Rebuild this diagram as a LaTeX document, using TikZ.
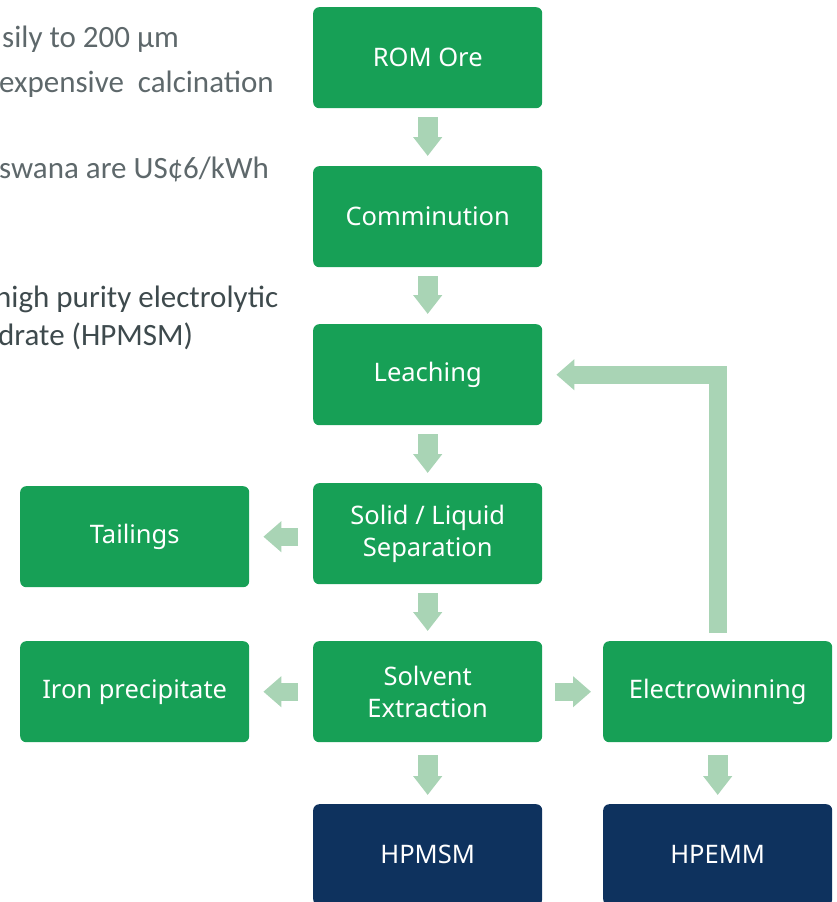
\documentclass[tikz,border=0pt]{standalone}
\usepackage{fontspec}
\setmainfont{Noto Sans}
\newfontfamily\sidefont{Carlito}
\usetikzlibrary{arrows.meta}
\definecolor{boxgreen}{HTML}{17A056}
\definecolor{navy}{HTML}{0E325E}
\definecolor{arrowgreen}{HTML}{A9D4B5}
\definecolor{sidegray}{HTML}{5E686B}
\definecolor{sidedark}{HTML}{3E4A4D}
\begin{document}
\begin{tikzpicture}[x=1pt,y=-1pt,
  proc/.style={fill=boxgreen, rounded corners=6pt, minimum width=229pt, minimum height=101pt,
    text=white, font=\fontsize{25.5}{31.5}\selectfont, align=center, anchor=north west, inner sep=0pt},
  prod/.style={proc, fill=navy},
  flow/.style={draw=arrowgreen, line width=20pt, -{Triangle[length=19pt,width=28pt]}},
  sideflow/.style={draw=arrowgreen, line width=18pt, -{Triangle[length=18pt,width=30pt]}},
  sidetext/.style={anchor=base west, inner sep=0pt, text=sidegray, font=\sidefont\fontsize{31}{36}\selectfont},
  sidetextdark/.style={sidetext, text=sidedark}]
\path[use as bounding box] (0,0) rectangle (837,902);
\clip (0,0) rectangle (837,902);

% side texts
\node[sidetext] (t1) at (2,47) {sily to 200 µm};
\node[sidetext] (t2) at (-1,92) {expensive\ \ calcination};
\node[sidetext] (t3) at (-1,178) {swana are US¢6/kWh};
\node[sidetextdark] (t4) at (-5,307) {high purity electrolytic};
\node[sidetextdark] (t5) at (-2,345) {drate (HPMSM)};

% boxes
\node[proc] (rom) at (313,7) {ROM Ore};
\node[proc] (comm) at (313,166) {Comminution};
\node[proc] (leach) at (313,324) {Leaching};
\node[proc] (sl) at (313,483) {Solid / Liquid\\Separation};
\node[proc] (sx) at (313,641) {Solvent\\Extraction};
\node[prod] (hpmsm) at (313,804) {HPMSM};
\node[proc] (tail) at (20,486) {Tailings};
\node[proc] (iron) at (20,641) {Iron precipitate};
\node[proc] (elec) at (603,641) {Electrowinning};
\node[prod] (hpemm) at (603,804) {HPEMM};

% connectors
\draw[flow, shorten <=9pt, shorten >=10pt] (rom.south) -- (comm.north);
\draw[flow, shorten <=9pt, shorten >=10pt] (comm.south) -- (leach.north);
\draw[flow, shorten <=9pt, shorten >=10pt] (leach.south) -- (sl.north);
\draw[flow, shorten <=9pt, shorten >=10pt] (sl.south) -- (sx.north);
\draw[flow, shorten <=13pt, shorten >=9pt] (sx.south) -- (hpmsm.north);
\draw[flow, shorten <=13pt, shorten >=9pt] (elec.south) -- (hpemm.north);
\draw[sideflow, shorten <=15pt, shorten >=14pt] (sl.west |- tail.east) -- (tail.east);
\draw[sideflow, shorten <=15pt, shorten >=14pt] (sx.west) -- (iron.east);
\draw[sideflow, shorten <=13pt, shorten >=12pt] (sx.east) -- (elec.west);
\draw[sideflow, shorten <=8pt, shorten >=14pt] (elec.north) |- (leach.east);
\end{tikzpicture}
\end{document}
